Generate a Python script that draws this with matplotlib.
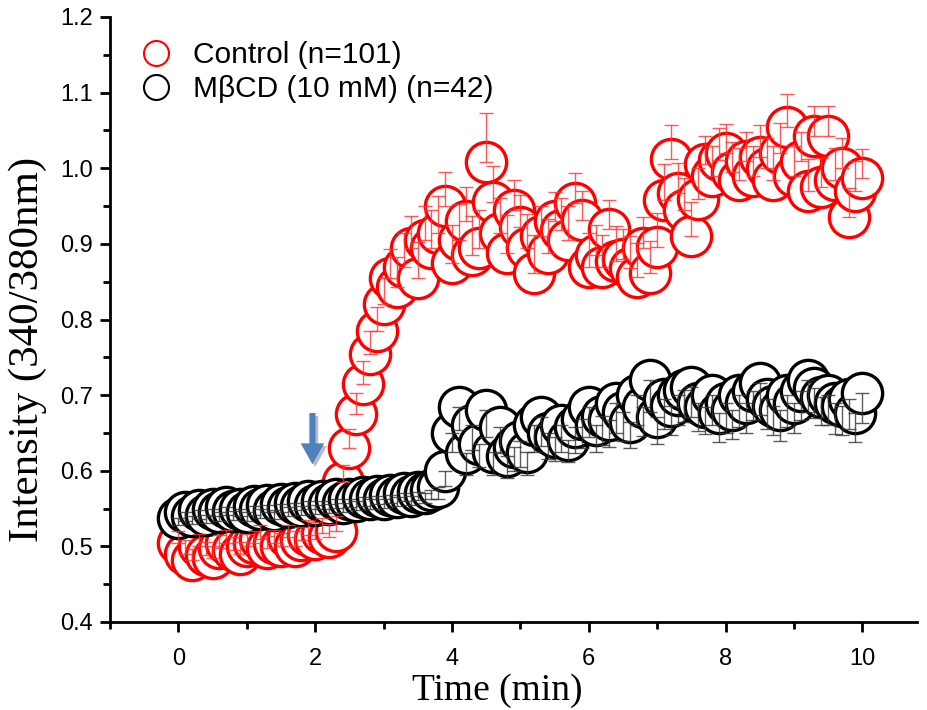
import matplotlib
matplotlib.use("Agg")
import matplotlib.pyplot as plt
from matplotlib.lines import Line2D
from matplotlib.ticker import MultipleLocator, FormatStrFormatter
import matplotlib.patheffects as pe


# sampling times (min)
time_min = [
    0.0, 0.1, 0.2, 0.3, 0.4, 0.5, 0.6, 0.7, 0.8, 0.9,
    1.0, 1.1, 1.2, 1.3, 1.4, 1.5, 1.6, 1.7, 1.8, 1.9,
    2.0, 2.1, 2.2, 2.3, 2.4, 2.5, 2.6, 2.7, 2.8, 2.9,
    3.0, 3.1, 3.2, 3.3, 3.4, 3.5, 3.6, 3.7, 3.8, 3.9,
    4.0, 4.1, 4.2, 4.3, 4.4, 4.5, 4.6, 4.7, 4.8, 4.9,
    5.0, 5.1, 5.2, 5.3, 5.4, 5.5, 5.6, 5.7, 5.8, 5.9,
    6.0, 6.1, 6.2, 6.3, 6.4, 6.5, 6.6, 6.7, 6.8, 6.9,
    7.0, 7.1, 7.2, 7.3, 7.4, 7.5, 7.6, 7.7, 7.8, 7.9,
    8.0, 8.1, 8.2, 8.3, 8.4, 8.5, 8.6, 8.7, 8.8, 8.9,
    9.0, 9.1, 9.2, 9.3, 9.4, 9.5, 9.6, 9.7, 9.8, 9.9,
    10.0,
]

control_mean = [
    0.505, 0.490, 0.482, 0.500, 0.488, 0.485, 0.498, 0.505, 0.495, 0.490,
    0.500, 0.505, 0.510, 0.498, 0.505, 0.500, 0.512, 0.500, 0.508, 0.515,
    0.510, 0.518, 0.512, 0.520, 0.585, 0.630, 0.675, 0.715, 0.755, 0.785,
    0.820, 0.855, 0.843, 0.870, 0.895, 0.855, 0.905, 0.895, 0.915, 0.950,
    0.875, 0.905, 0.930, 0.885, 0.895, 1.008, 0.955, 0.915, 0.888, 0.945,
    0.922, 0.895, 0.862, 0.910, 0.888, 0.930, 0.918, 0.905, 0.954, 0.932,
    0.870, 0.885, 0.870, 0.920, 0.878, 0.880, 0.868, 0.856, 0.895, 0.862,
    0.896, 0.958, 1.012, 0.967, 0.945, 0.910, 0.960, 1.005, 0.990, 1.011,
    1.020, 0.995, 0.985, 1.010, 0.990, 1.015, 1.000, 0.985, 1.020, 1.055,
    0.990, 1.010, 0.970, 1.042, 0.975, 1.042, 0.985, 1.000, 0.936, 0.970,
    0.987,
]

control_err = [
    0.015, 0.018, 0.015, 0.016, 0.018, 0.015, 0.017, 0.016, 0.018, 0.016,
    0.017, 0.015, 0.018, 0.016, 0.017, 0.018, 0.016, 0.020, 0.018, 0.020,
    0.022, 0.020, 0.018, 0.020, 0.022, 0.025, 0.028, 0.030, 0.030, 0.032,
    0.035, 0.038, 0.040, 0.045, 0.042, 0.048, 0.045, 0.050, 0.048, 0.045,
    0.050, 0.048, 0.045, 0.052, 0.050, 0.065, 0.048, 0.045, 0.050, 0.040,
    0.042, 0.045, 0.050, 0.040, 0.045, 0.038, 0.042, 0.045, 0.040, 0.038,
    0.045, 0.040, 0.042, 0.038, 0.045, 0.040, 0.042, 0.045, 0.040, 0.042,
    0.045, 0.048, 0.045, 0.040, 0.042, 0.045, 0.040, 0.038, 0.040, 0.042,
    0.038, 0.040, 0.042, 0.038, 0.040, 0.042, 0.040, 0.045, 0.040, 0.043,
    0.040, 0.038, 0.042, 0.040, 0.038, 0.040, 0.042, 0.040, 0.038, 0.040,
    0.038,
]

mbcd_mean = [
    0.538, 0.545, 0.540, 0.548, 0.542, 0.550, 0.545, 0.552, 0.547, 0.550,
    0.545, 0.553, 0.550, 0.555, 0.548, 0.556, 0.552, 0.558, 0.553, 0.560,
    0.555, 0.560, 0.556, 0.562, 0.558, 0.562, 0.560, 0.565, 0.562, 0.566,
    0.563, 0.568, 0.565, 0.570, 0.567, 0.572, 0.570, 0.575, 0.578, 0.600,
    0.650, 0.684, 0.623, 0.660, 0.635, 0.680, 0.625, 0.658, 0.620, 0.632,
    0.640, 0.625, 0.660, 0.671, 0.650, 0.645, 0.660, 0.641, 0.658, 0.668,
    0.684, 0.660, 0.672, 0.667, 0.690, 0.678, 0.665, 0.700, 0.684, 0.720,
    0.671, 0.695, 0.685, 0.700, 0.707, 0.711, 0.690, 0.684, 0.700, 0.676,
    0.690, 0.680, 0.700, 0.690, 0.705, 0.716, 0.695, 0.685, 0.680, 0.700,
    0.690, 0.705, 0.720, 0.710, 0.698, 0.700, 0.690, 0.685, 0.695, 0.676,
    0.703,
]

mbcd_err = [
    0.010, 0.012, 0.010, 0.012, 0.011, 0.010, 0.012, 0.011, 0.012, 0.010,
    0.012, 0.011, 0.012, 0.010, 0.012, 0.011, 0.012, 0.010, 0.012, 0.011,
    0.012, 0.010, 0.012, 0.011, 0.012, 0.010, 0.012, 0.011, 0.012, 0.010,
    0.012, 0.011, 0.012, 0.010, 0.012, 0.011, 0.012, 0.012, 0.015, 0.020,
    0.025, 0.030, 0.028, 0.032, 0.030, 0.035, 0.030, 0.035, 0.030, 0.032,
    0.035, 0.030, 0.035, 0.038, 0.035, 0.032, 0.035, 0.030, 0.035, 0.038,
    0.040, 0.035, 0.038, 0.035, 0.040, 0.038, 0.035, 0.040, 0.038, 0.042,
    0.035, 0.040, 0.038, 0.040, 0.042, 0.040, 0.038, 0.035, 0.040, 0.038,
    0.040, 0.038, 0.042, 0.040, 0.038, 0.042, 0.040, 0.038, 0.040, 0.042,
    0.040, 0.038, 0.042, 0.040, 0.038, 0.040, 0.042, 0.038, 0.040, 0.038,
    0.040,
]

control_label = "Control (n=101)"
mbcd_label = "M\u03b2CD (10 mM) (n=42)"


def main() -> None:
    fig = plt.figure(figsize=(9.27, 7.1), dpi=100)
    ax = fig.add_axes([110 / 927, 88 / 710, 807 / 927, 605 / 710])

    marker_kw = dict(marker="o", linestyle="none", markersize=29,
                     markerfacecolor="white", markeredgewidth=2.4)

    ax.plot(time_min, control_mean, markeredgecolor="#ff0000", zorder=2, **marker_kw)
    ax.plot(time_min, mbcd_mean, markeredgecolor="black", zorder=3, **marker_kw)

    # one-sided error bars: control up, MbCD down
    ax.errorbar(time_min, control_mean, yerr=[[0] * len(control_err), control_err],
                fmt="none", ecolor="#ff3030", elinewidth=1.0, capsize=5,
                capthick=1.0, alpha=0.8, zorder=4)
    ax.errorbar(time_min, mbcd_mean, yerr=[mbcd_err, [0] * len(mbcd_err)],
                fmt="none", ecolor="#333333", elinewidth=1.0, capsize=5,
                capthick=1.0, alpha=0.8, zorder=4)

    # application arrow
    ax.annotate("", xy=(1.96, 0.605), xytext=(1.96, 0.680),
                arrowprops=dict(arrowstyle="simple, head_width=0.85, head_length=0.75, tail_width=0.22",
                                mutation_scale=20, color="#4f81bd", lw=0,
                                path_effects=[pe.SimplePatchShadow(offset=(2, -2), alpha=0.3),
                                              pe.Normal()]),
                zorder=5)

    ax.set_xlim(-1, 10.8)
    ax.set_ylim(0.4, 1.2)

    ax.xaxis.set_major_locator(MultipleLocator(2))
    ax.xaxis.set_minor_locator(MultipleLocator(1))
    ax.yaxis.set_major_locator(MultipleLocator(0.1))
    ax.yaxis.set_minor_locator(MultipleLocator(0.05))
    ax.yaxis.set_major_formatter(FormatStrFormatter("%.1f"))

    for side in ["top", "right"]:
        ax.spines[side].set_visible(False)
    for side in ["left", "bottom"]:
        ax.spines[side].set_linewidth(2)

    ax.tick_params(which="major", direction="out", length=7, width=2)
    ax.tick_params(which="minor", direction="out", length=5, width=2)
    ax.tick_params(axis="x", pad=12, labelsize=17, labelfontfamily="Liberation Sans")
    ax.tick_params(axis="y", pad=5, labelsize=17, labelfontfamily="Liberation Sans")

    ax.set_xlabel("Time (min)", fontfamily="Liberation Serif", fontsize=27)
    ax.set_ylabel("Intensity (340/380nm)", fontfamily="Liberation Serif", fontsize=31)
    ax.xaxis.set_label_coords(0.48, -0.085)
    ax.yaxis.set_label_coords(-0.078, 0.45)

    handles = [
        Line2D([], [], marker="o", linestyle="none", markersize=18,
               markerfacecolor="white", markeredgecolor="#ff0000", markeredgewidth=1.5),
        Line2D([], [], marker="o", linestyle="none", markersize=18,
               markerfacecolor="white", markeredgecolor="black", markeredgewidth=1.5),
    ]
    ax.legend(handles, [control_label, mbcd_label], loc="upper left",
              bbox_to_anchor=(0.005, 0.98), frameon=False,
              prop={"family": "Liberation Sans", "size": 21.5},
              handletextpad=0.25, labelspacing=0.2, borderaxespad=0)

    fig.savefig("out.png", dpi=100)
    plt.close(fig)


if __name__ == "__main__":
    main()
